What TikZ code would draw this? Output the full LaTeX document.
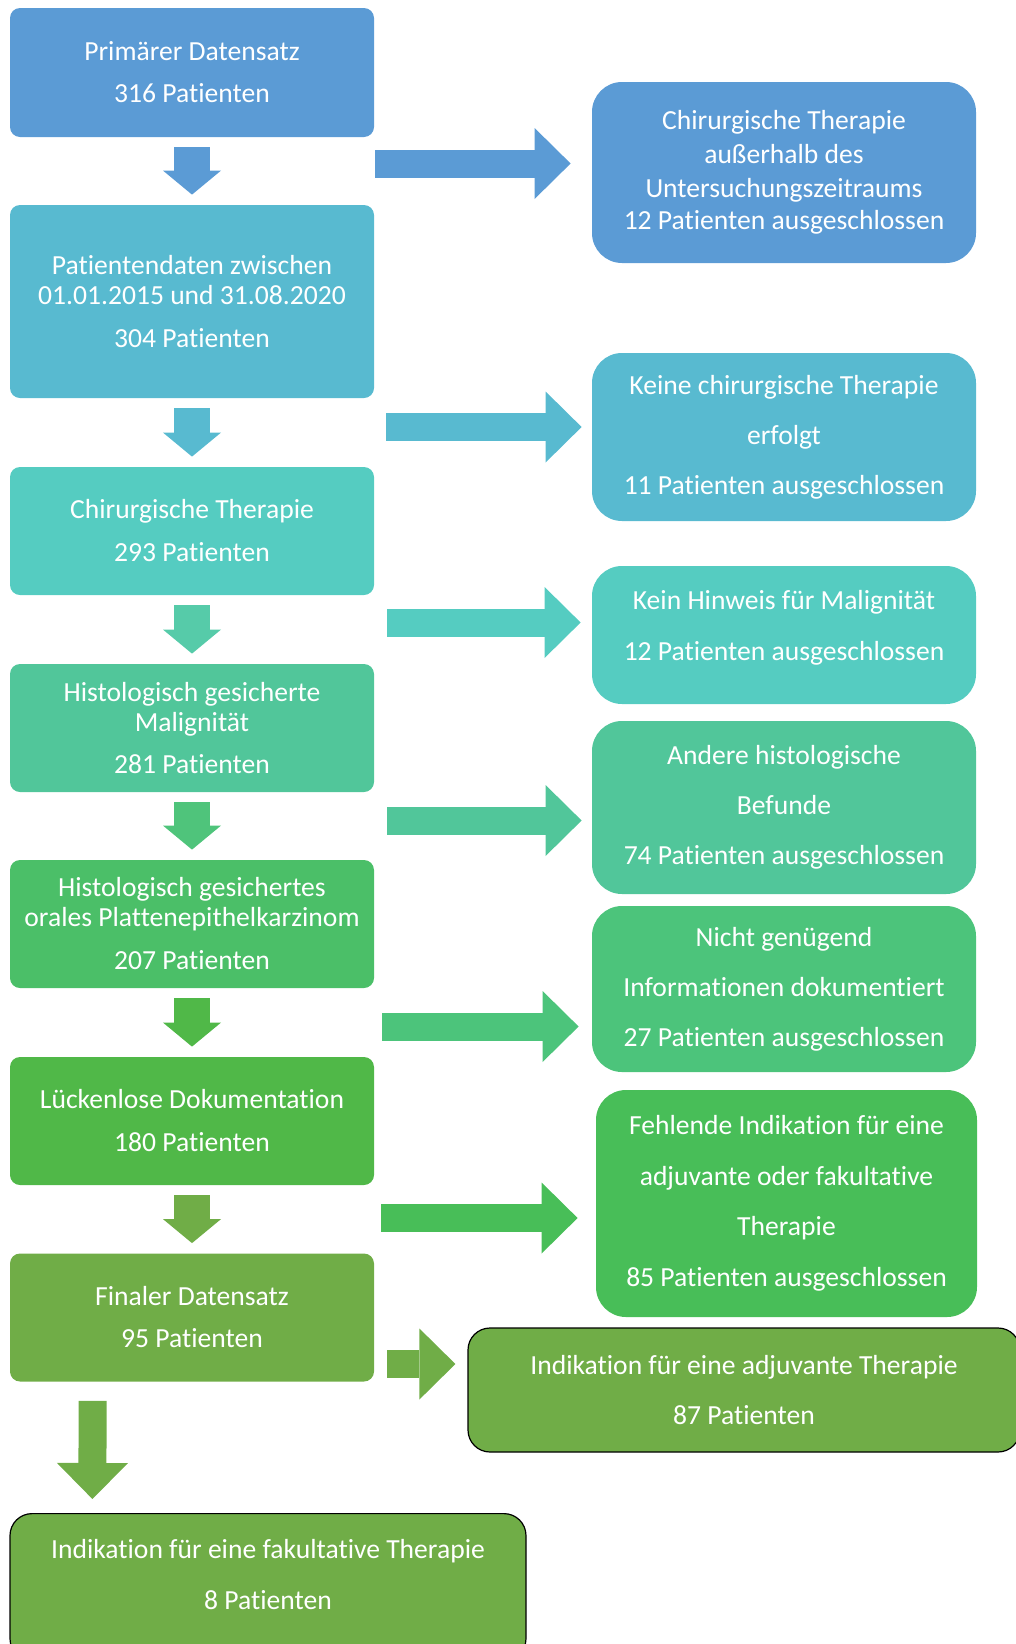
\documentclass[tikz,border=0pt]{standalone}
\usepackage{fontspec}
\setmainfont{Carlito}[Ligatures=CommonOff]
\usetikzlibrary{arrows.meta,calc}
\definecolor{colA}{HTML}{5B9BD5}
\definecolor{colB}{HTML}{58BAD0}
\definecolor{colC}{HTML}{55CCC1}
\definecolor{colCd}{HTML}{56CBA9}
\definecolor{colD}{HTML}{51C69A}
\definecolor{colDd}{HTML}{4FC47B}
\definecolor{colE}{HTML}{4BBF68}
\definecolor{colEr}{HTML}{4CC47B}
\definecolor{colF}{HTML}{50B848}
\definecolor{colFr}{HTML}{48BE58}
\definecolor{colG}{HTML}{70AD47}
\tikzset{
  boxfont/.style={font=\fontsize{13.8}{15}\selectfont},
  lbox/.style={fill=#1, rounded corners=5pt, minimum width=182pt, minimum height=64pt, text=white, align=center, inner sep=0pt, boxfont},
  rbox/.style={fill=#1, rounded corners=15pt, minimum width=192pt, text=white, align=center, inner sep=0pt, boxfont},
  gbox/.style={fill=#1, draw=black, line width=0.6pt, rounded corners=11pt, text=white, align=center, inner sep=0pt, boxfont},
  darrow/.style={color=#1, line width=18pt, shorten <=5pt, shorten >=5pt, -{Triangle[length=12pt,width=29pt,line width=0pt]}},
  rarrow/.style={color=#1, line width=14pt, -{Triangle[length=18pt,width=35.5pt,line width=0pt]}},
}

\begin{document}
\begin{tikzpicture}[x=0.5pt,y=-0.5pt]
  %%%%% START %%%%%
  \useasboundingbox (0,0) rectangle (1016,1644);

  % left column
  \node[lbox=colA, minimum height=64.5pt] (b1) at (192,72.5) {Primärer Datensatz\\[6pt]316 Patienten};
  \node[lbox=colB, minimum height=96.5pt] (b2) at (192,301.5) {Patientendaten zwischen\\01.01.2015 und 31.08.2020\\[6.5pt]304 Patienten};
  \node[lbox=colC] (b3) at (192,531) {Chirurgische Therapie\\[6.5pt]293 Patienten};
  \node[lbox=colD] (b4) at (192,728) {Histologisch gesicherte\\Malignität\\[6pt]281 Patienten};
  \node[lbox=colE] (b5) at (192,924) {Histologisch gesichertes\\orales Plattenepithelkarzinom\\[6.5pt]207 Patienten};
  \node[lbox=colF] (b6) at (192,1121) {Lückenlose Dokumentation\\[6.5pt]180 Patienten};
  \node[lbox=colG] (b7) at (192,1317.5) {Finaler Datensatz\\[6pt]95 Patienten};
  \node[gbox=colG, minimum width=258pt, minimum height=73.5pt, text depth=13pt, anchor=north] (b8) at (268,1513) {Indikation für eine fakultative Therapie\\[10.5pt]8 Patienten};

  % right column
  \node[rbox=colA, minimum height=90.5pt] (r1) at (784,172.5) {Chirurgische Therapie\\[2pt]außerhalb des\\[2pt]Untersuchungszeitraums\\[1pt]12 Patienten ausgeschlossen};
  \node[rbox=colB, minimum height=84pt] (r2) at (784,437) {Keine chirurgische Therapie\\[10pt]erfolgt\\[10pt]11 Patienten ausgeschlossen};
  \node[rbox=colC, minimum height=69pt, text depth=10pt] (r3) at (784,635) {Kein Hinweis für Malignität\\[10.5pt]12 Patienten ausgeschlossen};
  \node[rbox=colD, minimum height=86.5pt] (r4) at (784,807.5) {Andere histologische\\[10pt]Befunde\\[10pt]74 Patienten ausgeschlossen};
  \node[rbox=colEr, minimum height=83pt] (r5) at (784,989) {Nicht genügend\\[10pt]Informationen dokumentiert\\[10pt]27 Patienten ausgeschlossen};
  \node[rbox=colFr, minimum width=190.5pt, minimum height=113.5pt] (r6) at (786.5,1203.5) {Fehlende Indikation für eine\\[10.5pt]adjuvante oder fakultative\\[10pt]Therapie\\[10.5pt]85 Patienten ausgeschlossen};
  \node[gbox=colG, minimum width=276pt, minimum height=62pt] (r7) at (744,1390) {Indikation für eine adjuvante Therapie\\[10pt]87 Patienten};

  % down arrows
  \draw[darrow=colA] (b1.south) -- (b2.north);
  \draw[darrow=colB] (b2.south) -- (b3.north);
  \draw[darrow=colCd] (b3.south) -- (b4.north);
  \draw[darrow=colDd] (b4.south) -- (b5.north);
  \draw[darrow=colF] (b5.south) -- (b6.north);
  \draw[darrow=colG] (b6.south) -- (b7.north);
  \draw[rarrow=colG, shorten <=9.5pt, shorten >=7pt] ([xshift=41.5pt]b7.south west) -- ([xshift=41.5pt]b8.north west);

  % arrows to the right
  \coordinate (s1) at (375,163.5);
  \coordinate (s2) at (386,427);
  \coordinate (s3) at (387,622.5);
  \coordinate (s4) at (387,820.5);
  \coordinate (s5) at (382,1026.5);
  \coordinate (s6) at (381,1218);
  \coordinate (s7) at (387,1364);
  \draw[rarrow=colA, shorten >=10.5pt] (s1) -- (s1 -| r1.west);
  \draw[rarrow=colB, shorten >=5pt] (s2) -- (s2 -| r2.west);
  \draw[rarrow=colC, shorten >=5.5pt] (s3) -- (s3 -| r3.west);
  \draw[rarrow=colD, shorten >=5pt] (s4) -- (s4 -| r4.west);
  \draw[rarrow=colEr, shorten >=6.5pt] (s5) -- (s5 -| r5.west);
  \draw[rarrow=colFr, shorten >=9pt] (s6) -- (s6 -| r6.west);
  \draw[rarrow=colG, shorten >=6pt] (s7) -- (s7 -| r7.west);

  %%%%% END %%%%%
\end{tikzpicture}
\end{document}
